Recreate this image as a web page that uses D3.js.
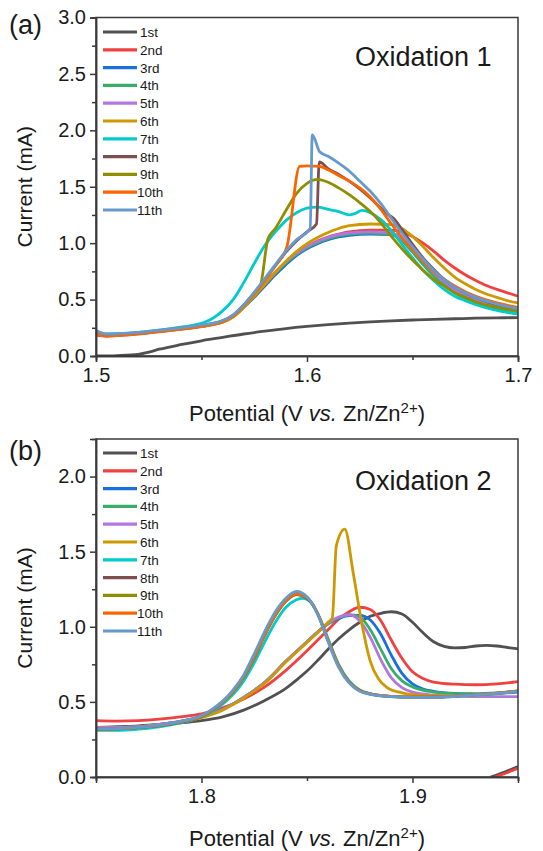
<!DOCTYPE html>
<html>
<head>
<meta charset="utf-8">
<script src="https://cdn.jsdelivr.net/npm/d3@7"></script>
<style>
  body { margin: 0; background: #fff; }
  text { font-family: "Liberation Sans", Arial, sans-serif; fill: #1a1a1a; }
</style>
</head>
<body>
<div id="chart"></div>
<script>
const width = 543;
const height = 851;

// Legend labels and Origin-style colours
const cycles = ["1st", "2nd", "3rd", "4th", "5th", "6th", "7th", "8th", "9th", "10th", "11th"];
const colors = ["#515151", "#F14040", "#1A6FDF", "#37AD6B", "#B177DE", "#CC9900",
                "#00CBCC", "#7D4E4E", "#8E8E00", "#FB6501", "#6699CC"];

// ---- Oxidation 1 : [potential (V), current (mA)] ----
const ox1_c1 = [[1.500,0.000],[1.510,0.004],[1.520,0.015],[1.525,0.035],[1.530,0.060],[1.540,0.100],[1.550,0.135],[1.560,0.165],[1.570,0.195],[1.580,0.220],[1.590,0.243],[1.600,0.262],[1.610,0.278],[1.620,0.292],[1.630,0.303],[1.640,0.312],[1.650,0.319],[1.660,0.325],[1.670,0.330],[1.680,0.335],[1.690,0.338],[1.700,0.340]];
const ox1_c2 = [[1.500,0.185],[1.505,0.175],[1.510,0.180],[1.520,0.195],[1.530,0.215],[1.540,0.235],[1.550,0.260],[1.555,0.275],[1.560,0.300],[1.565,0.350],[1.570,0.440],[1.575,0.540],[1.580,0.640],[1.585,0.740],[1.590,0.830],[1.595,0.910],[1.600,0.970],[1.605,1.020],[1.610,1.055],[1.615,1.080],[1.620,1.100],[1.630,1.115],[1.640,1.115],[1.645,1.100],[1.650,1.060],[1.655,1.000],[1.660,0.930],[1.665,0.850],[1.670,0.780],[1.675,0.720],[1.680,0.670],[1.685,0.625],[1.690,0.590],[1.695,0.560],[1.700,0.530]];
const ox1_c3 = [[1.500,0.200],[1.505,0.180],[1.510,0.185],[1.520,0.200],[1.530,0.220],[1.540,0.240],[1.550,0.265],[1.555,0.280],[1.560,0.305],[1.565,0.350],[1.570,0.430],[1.575,0.520],[1.580,0.620],[1.585,0.720],[1.590,0.810],[1.595,0.890],[1.600,0.950],[1.605,0.995],[1.610,1.030],[1.615,1.055],[1.620,1.070],[1.630,1.080],[1.640,1.075],[1.645,1.030],[1.650,0.940],[1.655,0.840],[1.660,0.740],[1.665,0.660],[1.670,0.590],[1.675,0.540],[1.680,0.500],[1.685,0.470],[1.690,0.445],[1.695,0.420],[1.700,0.400]];
const ox1_c4 = [[1.500,0.200],[1.505,0.180],[1.510,0.185],[1.520,0.200],[1.530,0.220],[1.540,0.240],[1.550,0.265],[1.555,0.280],[1.560,0.310],[1.565,0.360],[1.570,0.440],[1.575,0.535],[1.580,0.635],[1.585,0.735],[1.590,0.825],[1.595,0.900],[1.600,0.960],[1.605,1.005],[1.610,1.040],[1.615,1.065],[1.620,1.080],[1.630,1.090],[1.640,1.075],[1.645,1.020],[1.650,0.920],[1.655,0.810],[1.660,0.710],[1.665,0.630],[1.670,0.560],[1.675,0.510],[1.680,0.470],[1.685,0.440],[1.690,0.415],[1.695,0.395],[1.700,0.375]];
const ox1_c5 = [[1.500,0.200],[1.505,0.182],[1.510,0.187],[1.520,0.202],[1.530,0.222],[1.540,0.243],[1.550,0.267],[1.555,0.283],[1.560,0.310],[1.565,0.360],[1.570,0.450],[1.575,0.545],[1.580,0.645],[1.585,0.745],[1.590,0.835],[1.595,0.910],[1.600,0.970],[1.605,1.015],[1.610,1.050],[1.615,1.075],[1.620,1.090],[1.630,1.100],[1.640,1.090],[1.645,1.040],[1.650,0.940],[1.655,0.840],[1.660,0.740],[1.665,0.660],[1.670,0.590],[1.675,0.540],[1.680,0.500],[1.685,0.470],[1.690,0.440],[1.695,0.420],[1.700,0.400]];
const ox1_c6 = [[1.500,0.195],[1.505,0.178],[1.510,0.183],[1.520,0.198],[1.530,0.218],[1.540,0.238],[1.550,0.262],[1.555,0.278],[1.560,0.300],[1.565,0.345],[1.570,0.430],[1.575,0.530],[1.580,0.635],[1.585,0.740],[1.590,0.840],[1.595,0.925],[1.600,0.995],[1.605,1.050],[1.610,1.095],[1.615,1.130],[1.620,1.155],[1.630,1.170],[1.640,1.165],[1.645,1.130],[1.650,1.060],[1.655,0.970],[1.660,0.870],[1.665,0.780],[1.670,0.700],[1.675,0.640],[1.680,0.590],[1.685,0.550],[1.690,0.520],[1.695,0.490],[1.700,0.470]];
const ox1_c7 = [[1.500,0.220],[1.505,0.195],[1.510,0.197],[1.520,0.210],[1.530,0.230],[1.540,0.255],[1.545,0.270],[1.550,0.290],[1.555,0.330],[1.560,0.400],[1.565,0.500],[1.570,0.650],[1.575,0.820],[1.580,0.980],[1.585,1.100],[1.590,1.200],[1.595,1.270],[1.600,1.310],[1.605,1.320],[1.610,1.300],[1.615,1.280],[1.620,1.250],[1.623,1.265],[1.626,1.290],[1.630,1.270],[1.635,1.210],[1.640,1.110],[1.645,0.990],[1.650,0.870],[1.655,0.760],[1.660,0.670],[1.665,0.590],[1.670,0.530],[1.675,0.490],[1.680,0.455],[1.690,0.405],[1.700,0.370]];
const ox1_c8 = [[1.500,0.210],[1.505,0.185],[1.510,0.190],[1.520,0.205],[1.530,0.225],[1.540,0.245],[1.550,0.270],[1.555,0.285],[1.560,0.310],[1.565,0.360],[1.570,0.450],[1.575,0.560],[1.580,0.680],[1.585,0.800],[1.590,0.920],[1.595,1.020],[1.600,1.100],[1.6045,1.170],[1.6058,1.720],[1.610,1.660],[1.615,1.610],[1.620,1.550],[1.625,1.480],[1.630,1.400],[1.635,1.310],[1.638,1.260],[1.641,1.220],[1.645,1.120],[1.650,0.990],[1.655,0.870],[1.660,0.770],[1.665,0.680],[1.670,0.610],[1.675,0.560],[1.680,0.520],[1.690,0.455],[1.700,0.410]];
const ox1_c9 = [[1.500,0.210],[1.505,0.185],[1.510,0.190],[1.520,0.205],[1.530,0.225],[1.540,0.245],[1.550,0.270],[1.555,0.285],[1.560,0.310],[1.565,0.360],[1.570,0.450],[1.575,0.560],[1.578,0.630],[1.5815,1.040],[1.585,1.130],[1.590,1.290],[1.595,1.440],[1.600,1.530],[1.605,1.565],[1.610,1.540],[1.615,1.490],[1.620,1.430],[1.625,1.360],[1.630,1.280],[1.635,1.180],[1.640,1.060],[1.645,0.950],[1.650,0.850],[1.655,0.760],[1.660,0.680],[1.665,0.620],[1.670,0.560],[1.675,0.520],[1.680,0.480],[1.690,0.430],[1.700,0.400]];
const ox1_c10 = [[1.500,0.200],[1.505,0.180],[1.510,0.185],[1.520,0.200],[1.530,0.220],[1.540,0.240],[1.550,0.265],[1.555,0.280],[1.560,0.305],[1.565,0.355],[1.570,0.445],[1.575,0.550],[1.580,0.670],[1.585,0.800],[1.5905,0.970],[1.5965,1.680],[1.600,1.685],[1.606,1.680],[1.610,1.650],[1.615,1.600],[1.620,1.550],[1.625,1.490],[1.630,1.410],[1.635,1.300],[1.640,1.170],[1.645,1.050],[1.650,0.940],[1.655,0.840],[1.660,0.750],[1.665,0.680],[1.670,0.620],[1.675,0.570],[1.680,0.530],[1.690,0.470],[1.700,0.430]];
const ox1_c11 = [[1.500,0.225],[1.505,0.195],[1.510,0.198],[1.520,0.210],[1.530,0.230],[1.540,0.250],[1.550,0.275],[1.555,0.290],[1.560,0.315],[1.565,0.365],[1.570,0.455],[1.575,0.565],[1.580,0.685],[1.585,0.810],[1.590,0.930],[1.595,1.030],[1.6015,1.130],[1.6025,1.960],[1.606,1.810],[1.610,1.770],[1.615,1.710],[1.620,1.640],[1.625,1.550],[1.630,1.460],[1.635,1.350],[1.640,1.220],[1.645,1.090],[1.650,0.970],[1.655,0.860],[1.660,0.760],[1.665,0.680],[1.670,0.610],[1.675,0.560],[1.680,0.520],[1.690,0.460],[1.700,0.420]];

// ---- Oxidation 2 : [potential (V), current (mA)] ----
const ox2_c1 = [[1.750,0.330],[1.760,0.335],[1.770,0.340],[1.780,0.350],[1.790,0.360],[1.800,0.375],[1.810,0.400],[1.820,0.445],[1.830,0.510],[1.840,0.590],[1.845,0.645],[1.850,0.705],[1.855,0.775],[1.860,0.850],[1.865,0.920],[1.870,0.980],[1.875,1.030],[1.880,1.070],[1.885,1.090],[1.890,1.100],[1.895,1.085],[1.900,1.030],[1.905,0.960],[1.910,0.900],[1.915,0.870],[1.920,0.860],[1.925,0.862],[1.930,0.872],[1.935,0.876],[1.940,0.872],[1.945,0.862],[1.950,0.853]];
const ox2_c1_tail = [[1.937,0.000],[1.944,0.035],[1.950,0.070]];
const ox2_c2 = [[1.750,0.375],[1.760,0.372],[1.770,0.375],[1.780,0.385],[1.790,0.400],[1.800,0.420],[1.810,0.460],[1.820,0.520],[1.830,0.600],[1.840,0.710],[1.850,0.840],[1.855,0.910],[1.860,0.980],[1.865,1.050],[1.870,1.100],[1.875,1.130],[1.880,1.115],[1.885,1.040],[1.890,0.910],[1.895,0.790],[1.900,0.700],[1.905,0.655],[1.910,0.632],[1.920,0.618],[1.930,0.614],[1.940,0.620],[1.950,0.635]];
const ox2_c2_tail = [[1.939,0.000],[1.945,0.030],[1.950,0.058]];
const ox2_c3 = [[1.750,0.330],[1.760,0.330],[1.770,0.335],[1.780,0.350],[1.790,0.370],[1.800,0.400],[1.810,0.450],[1.820,0.530],[1.830,0.630],[1.840,0.770],[1.850,0.900],[1.855,0.965],[1.860,1.020],[1.865,1.055],[1.870,1.075],[1.875,1.075],[1.880,1.045],[1.885,0.950],[1.890,0.810],[1.895,0.690],[1.900,0.620],[1.905,0.585],[1.910,0.570],[1.920,0.556],[1.930,0.552],[1.940,0.556],[1.950,0.565]];
const ox2_c4 = [[1.750,0.330],[1.760,0.330],[1.770,0.335],[1.780,0.350],[1.790,0.370],[1.800,0.400],[1.810,0.450],[1.820,0.530],[1.830,0.630],[1.840,0.770],[1.850,0.900],[1.855,0.965],[1.860,1.020],[1.865,1.060],[1.870,1.080],[1.875,1.065],[1.880,0.980],[1.885,0.850],[1.890,0.720],[1.895,0.640],[1.900,0.600],[1.910,0.565],[1.920,0.555],[1.930,0.555],[1.940,0.560],[1.950,0.570]];
const ox2_c5 = [[1.750,0.330],[1.760,0.330],[1.770,0.335],[1.780,0.350],[1.790,0.370],[1.800,0.400],[1.810,0.450],[1.820,0.530],[1.830,0.630],[1.840,0.770],[1.850,0.900],[1.855,0.965],[1.860,1.025],[1.865,1.065],[1.870,1.080],[1.875,1.040],[1.880,0.930],[1.885,0.780],[1.890,0.660],[1.895,0.595],[1.900,0.565],[1.910,0.545],[1.920,0.538],[1.930,0.535],[1.940,0.535],[1.950,0.535]];
const ox2_c6 = [[1.750,0.320],[1.760,0.322],[1.770,0.330],[1.780,0.345],[1.790,0.365],[1.800,0.395],[1.810,0.445],[1.820,0.525],[1.830,0.625],[1.840,0.765],[1.850,0.895],[1.855,0.960],[1.860,1.030],[1.862,1.060],[1.8639,1.540],[1.8679,1.650],[1.872,1.350],[1.876,1.020],[1.880,0.770],[1.884,0.650],[1.888,0.595],[1.895,0.560],[1.900,0.548],[1.910,0.540],[1.920,0.540],[1.930,0.545],[1.940,0.555],[1.950,0.575]];
const ox2_c7 = [[1.750,0.310],[1.760,0.310],[1.770,0.318],[1.780,0.333],[1.790,0.360],[1.800,0.400],[1.805,0.435],[1.810,0.485],[1.815,0.550],[1.820,0.640],[1.825,0.760],[1.830,0.900],[1.835,1.030],[1.840,1.130],[1.845,1.180],[1.848,1.190],[1.852,1.160],[1.856,1.060],[1.860,0.920],[1.865,0.750],[1.870,0.640],[1.875,0.580],[1.880,0.555],[1.890,0.535],[1.900,0.530],[1.910,0.530],[1.920,0.535],[1.930,0.545],[1.940,0.555],[1.950,0.570]];
const ox2_c8 = [[1.750,0.318],[1.760,0.320],[1.770,0.328],[1.780,0.342],[1.790,0.366],[1.800,0.403],[1.805,0.443],[1.810,0.498],[1.815,0.568],[1.820,0.665],[1.825,0.795],[1.830,0.945],[1.835,1.075],[1.840,1.170],[1.845,1.215],[1.850,1.190],[1.855,1.090],[1.860,0.910],[1.865,0.740],[1.870,0.632],[1.875,0.576],[1.880,0.553],[1.890,0.537],[1.900,0.532],[1.910,0.532],[1.920,0.538],[1.930,0.548],[1.940,0.558],[1.950,0.572]];
const ox2_c9 = [[1.750,0.318],[1.760,0.320],[1.770,0.328],[1.780,0.343],[1.790,0.367],[1.800,0.404],[1.805,0.444],[1.810,0.499],[1.815,0.569],[1.820,0.668],[1.825,0.798],[1.830,0.948],[1.835,1.078],[1.840,1.172],[1.845,1.218],[1.850,1.192],[1.855,1.088],[1.860,0.908],[1.865,0.738],[1.870,0.630],[1.875,0.575],[1.880,0.552],[1.890,0.536],[1.900,0.531],[1.910,0.531],[1.920,0.537],[1.930,0.547],[1.940,0.557],[1.950,0.571]];
const ox2_c10 = [[1.750,0.320],[1.760,0.322],[1.770,0.330],[1.780,0.344],[1.790,0.368],[1.800,0.405],[1.805,0.445],[1.810,0.500],[1.815,0.570],[1.820,0.670],[1.825,0.800],[1.830,0.950],[1.835,1.080],[1.840,1.175],[1.845,1.220],[1.850,1.195],[1.855,1.090],[1.860,0.910],[1.865,0.740],[1.870,0.630],[1.875,0.575],[1.880,0.552],[1.890,0.537],[1.900,0.532],[1.910,0.532],[1.920,0.538],[1.930,0.548],[1.940,0.558],[1.950,0.572]];
const ox2_c11 = [[1.750,0.320],[1.760,0.322],[1.770,0.330],[1.780,0.345],[1.790,0.370],[1.800,0.410],[1.805,0.450],[1.810,0.505],[1.815,0.580],[1.820,0.680],[1.825,0.820],[1.830,0.970],[1.835,1.100],[1.840,1.190],[1.845,1.235],[1.850,1.200],[1.855,1.085],[1.860,0.900],[1.865,0.730],[1.870,0.625],[1.875,0.570],[1.880,0.550],[1.890,0.535],[1.900,0.530],[1.910,0.530],[1.920,0.537],[1.930,0.547],[1.940,0.557],[1.950,0.570]];

// Axis ticks
const ox1_xTicks = [1.5, 1.6, 1.7];
const ox1_xMinor = [1.55, 1.65];
const ox1_yTicks = [0.0, 0.5, 1.0, 1.5, 2.0, 2.5, 3.0];
const ox1_yMinor = [0.25, 0.75, 1.25, 1.75, 2.25, 2.75];
const ox2_xTicks = [1.8, 1.9];
const ox2_xMinor = [1.75, 1.85, 1.95];
const ox2_yTicks = [0.0, 0.5, 1.0, 1.5, 2.0];
const ox2_yMinor = [0.25, 0.75, 1.25, 1.75];

const panels = [
  {
    tag: "(a)", title: "Oxidation 1",
    series: [ox1_c1, ox1_c2, ox1_c3, ox1_c4, ox1_c5, ox1_c6, ox1_c7, ox1_c8, ox1_c9, ox1_c10, ox1_c11],
    tails: [],
    xDomain: [1.5, 1.7], yDomain: [0, 3.0],
    xTicks: ox1_xTicks, xMinor: ox1_xMinor, yTicks: ox1_yTicks, yMinor: ox1_yMinor,
    box: { left: 96, right: 518, top: 17.5, bottom: 356 },
    tagY: 34, titleY: 66, legendY: 32, xTitleY: 421
  },
  {
    tag: "(b)", title: "Oxidation 2",
    series: [ox2_c1, ox2_c2, ox2_c3, ox2_c4, ox2_c5, ox2_c6, ox2_c7, ox2_c8, ox2_c9, ox2_c10, ox2_c11],
    tails: [[ox2_c1_tail, 0], [ox2_c2_tail, 1]],
    xDomain: [1.75, 1.95], yDomain: [0, 2.25],
    xTicks: ox2_xTicks, xMinor: ox2_xMinor, yTicks: ox2_yTicks, yMinor: ox2_yMinor,
    box: { left: 96, right: 518, top: 439, bottom: 777 },
    tagY: 460, titleY: 490, legendY: 453, xTitleY: 846
  }
];

const svg = d3.select("#chart")
  .append("svg")
  .attr("width", width)
  .attr("height", height);

panels.forEach(p => {
  const b = p.box;
  const w = b.right - b.left;
  const h = b.bottom - b.top;

  const xScale = d3.scaleLinear().domain(p.xDomain).range([0, w]);
  const yScale = d3.scaleLinear().domain(p.yDomain).range([h, 0]);

  const g = svg.append("g").attr("transform", `translate(${b.left},${b.top})`);

  // Clip so curves stay inside the frame
  const clipId = "clip" + p.tag.replace(/\W/g, "");
  g.append("clipPath").attr("id", clipId)
    .append("rect").attr("width", w).attr("height", h);

  const line = d3.line()
    .x(d => xScale(d[0]))
    .y(d => yScale(d[1]))
    .curve(d3.curveMonotoneX);

  const plot = g.append("g").attr("clip-path", `url(#${clipId})`);

  p.tails.forEach(([data, i]) => {
    plot.append("path")
      .attr("d", line(data))
      .attr("fill", "none")
      .attr("stroke", colors[i])
      .attr("stroke-width", 2.8);
  });

  p.series.forEach((data, i) => {
    plot.append("path")
      .attr("d", line(data))
      .attr("fill", "none")
      .attr("stroke", colors[i])
      .attr("stroke-width", 2.8)
      .attr("stroke-linejoin", "round");
  });

  // Frame
  g.append("rect")
    .attr("width", w).attr("height", h)
    .attr("fill", "none")
    .attr("stroke", "#3a3a3a")
    .attr("stroke-width", 1.5);

  // Axes
  g.append("g")
    .attr("transform", `translate(0,${h})`)
    .call(d3.axisBottom(xScale).tickValues(p.xTicks).tickSize(6).tickPadding(6).tickFormat(d3.format(".1f")));
  g.append("g")
    .attr("transform", `translate(0,${h})`)
    .call(d3.axisBottom(xScale).tickValues(p.xMinor).tickSize(4).tickFormat(""));
  g.append("g")
    .call(d3.axisLeft(yScale).tickValues(p.yTicks).tickSize(6).tickPadding(4).tickFormat(d3.format(".1f")));
  g.append("g")
    .call(d3.axisLeft(yScale).tickValues(p.yMinor).tickSize(4).tickFormat(""));

  g.selectAll(".domain").attr("stroke", "#3a3a3a").attr("stroke-width", 1.5);
  g.selectAll(".tick line").attr("stroke", "#3a3a3a").attr("stroke-width", 1.5);
  g.selectAll(".tick text")
    .attr("font-family", "Liberation Sans, Arial, sans-serif")
    .attr("font-size", 20)
    .attr("fill", "#1a1a1a");

  // Axis titles
  const xt = svg.append("text")
    .attr("x", b.left + w / 2)
    .attr("y", p.xTitleY)
    .attr("text-anchor", "middle")
    .attr("font-size", 22);
  xt.append("tspan").text("Potential (V ");
  xt.append("tspan").attr("font-style", "italic").text("vs.");
  xt.append("tspan").text(" Zn/Zn");
  xt.append("tspan").attr("font-size", 15).attr("dy", -8).text("2+");
  xt.append("tspan").attr("dy", 8).text(")");

  svg.append("text")
    .attr("transform", `translate(32,${b.top + h / 2}) rotate(-90)`)
    .attr("text-anchor", "middle")
    .attr("font-size", 21)
    .text("Current (mA)");

  // Panel tag and title
  svg.append("text")
    .attr("x", 9).attr("y", p.tagY)
    .attr("font-size", 27)
    .text(p.tag);

  svg.append("text")
    .attr("x", 355).attr("y", p.titleY)
    .attr("font-size", 27)
    .text(p.title);

  // Legend
  const legend = svg.append("g").attr("transform", `translate(103,${p.legendY})`);
  cycles.forEach((c, i) => {
    const row = legend.append("g").attr("transform", `translate(0,${i * 17.8})`);
    row.append("line")
      .attr("x1", 0).attr("x2", 34)
      .attr("stroke", colors[i])
      .attr("stroke-width", 3.2);
    row.append("text")
      .attr("x", c.length > 3 ? 34 : 37)
      .attr("y", 5)
      .attr("font-size", 13.5)
      .text(c);
  });
});
</script>
</body>
</html>
